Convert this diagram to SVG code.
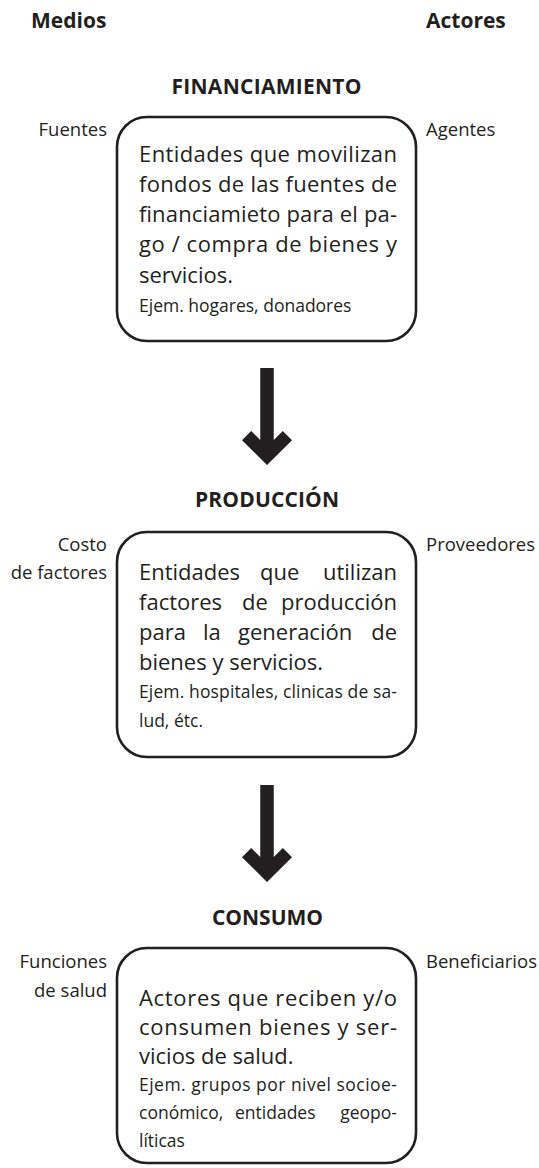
<svg xmlns="http://www.w3.org/2000/svg" xmlns:xlink="http://www.w3.org/1999/xlink" width="539" height="1168" viewBox="0 0 539 1168">
<style>
text{font-family:"Open Sans","Noto Sans","Liberation Sans",sans-serif;fill:#231f20}
.hd{font-weight:700;font-size:21px}
.ttl{font-weight:700;font-size:21px;text-anchor:middle}
.lbl{font-size:18.5px}
.lbl-l{font-size:18.5px;text-anchor:end}
.body{font-size:22px}
.ej{font-size:17.5px}
.box{fill:#fff;stroke:#231f20;stroke-width:2.6}
.arr{fill:#231f20}
.end{text-anchor:end}
</style>
<defs>
<path id="arrow" d="M-6.75,0 L6.75,0 L6.75,72.1 L15.8,63 L25,72.2 L0,97 L-25,72.2 L-15.8,63 L-6.75,72.1 Z"/>
</defs>
<rect width="539" height="1168" fill="#fff"/>
<g id="headers">
<text class="hd" x="31" y="28">Medios</text>
<text class="hd" x="426" y="28">Actores</text>
</g>
<g id="financiamiento">
<text class="ttl" x="266.5" y="94" textLength="190" lengthAdjust="spacing">FINANCIAMIENTO</text>
<text class="lbl-l" x="107" y="136">Fuentes</text>
<text class="lbl" x="426" y="136">Agentes</text>
<rect class="box" x="117" y="117" width="299" height="224" rx="30" ry="30"/>
<text class="body" x="139" y="162" textLength="258" lengthAdjust="spacing">Entidades que movilizan</text>
<text class="body" x="139" y="192" textLength="258" lengthAdjust="spacing">fondos de las fuentes de</text>
<text class="body" x="139" y="222" textLength="258" lengthAdjust="spacing">financiamieto para el pa-</text>
<text class="body" x="139" y="252" textLength="258" lengthAdjust="spacing">go / compra de bienes y</text>
<text class="body" x="139" y="282.5">servicios.</text>
<text class="ej" x="139" y="311.5">Ejem. hogares, donadores</text>
</g>
<g id="produccion">
<text class="ttl" x="267" y="507" textLength="144" lengthAdjust="spacing">PRODUCCIÓN</text>
<text class="lbl-l" x="107" y="550.5">Costo</text>
<text class="lbl-l" x="107" y="579">de factores</text>
<text class="lbl" x="426" y="550.5">Proveedores</text>
<rect class="box" x="117" y="532" width="299" height="225" rx="30" ry="30"/>
<text class="body" y="580"><tspan x="139">Entidades</tspan> <tspan x="260">que</tspan> <tspan x="397" class="end">utilizan</tspan></text>
<text class="body" y="610"><tspan x="139">factores</tspan> <tspan x="242">de</tspan> <tspan x="397" class="end">producción</tspan></text>
<text class="body" y="640"><tspan x="139">para</tspan> <tspan x="203">la</tspan> <tspan x="238">generación</tspan> <tspan x="397" class="end">de</tspan></text>
<text class="body" x="139" y="670">bienes y servicios.</text>
<text class="ej" x="139" y="698" textLength="258" lengthAdjust="spacing">Ejem. hospitales, clinicas de sa-</text>
<text class="ej" x="139" y="727">lud, étc.</text>
</g>
<g id="consumo">
<text class="ttl" x="267.5" y="925" textLength="111" lengthAdjust="spacing">CONSUMO</text>
<text class="lbl-l" x="107" y="968">Funciones</text>
<text class="lbl-l" x="107" y="997">de salud</text>
<text class="lbl" x="426" y="968">Beneficiarios</text>
<rect class="box" x="117" y="948" width="299" height="215" rx="30" ry="30"/>
<text class="body" x="139" y="1006" textLength="258" lengthAdjust="spacing">Actores que reciben y/o</text>
<text class="body" x="139" y="1035" textLength="258" lengthAdjust="spacing">consumen bienes y ser-</text>
<text class="body" x="139" y="1064">vicios de salud.</text>
<text class="ej" x="139" y="1091" textLength="258" lengthAdjust="spacing">Ejem. grupos por nivel socioe-</text>
<text class="ej" y="1119"><tspan x="139">conómico,</tspan> <tspan x="235">entidades</tspan> <tspan x="397" class="end">geopo-</tspan></text>
<text class="ej" x="139" y="1147">líticas</text>
</g>
<g id="connectors">
<use class="arr" xlink:href="#arrow" href="#arrow" transform="translate(267,368)"/>
<use class="arr" xlink:href="#arrow" href="#arrow" transform="translate(267,785)"/>
</g>
</svg>
